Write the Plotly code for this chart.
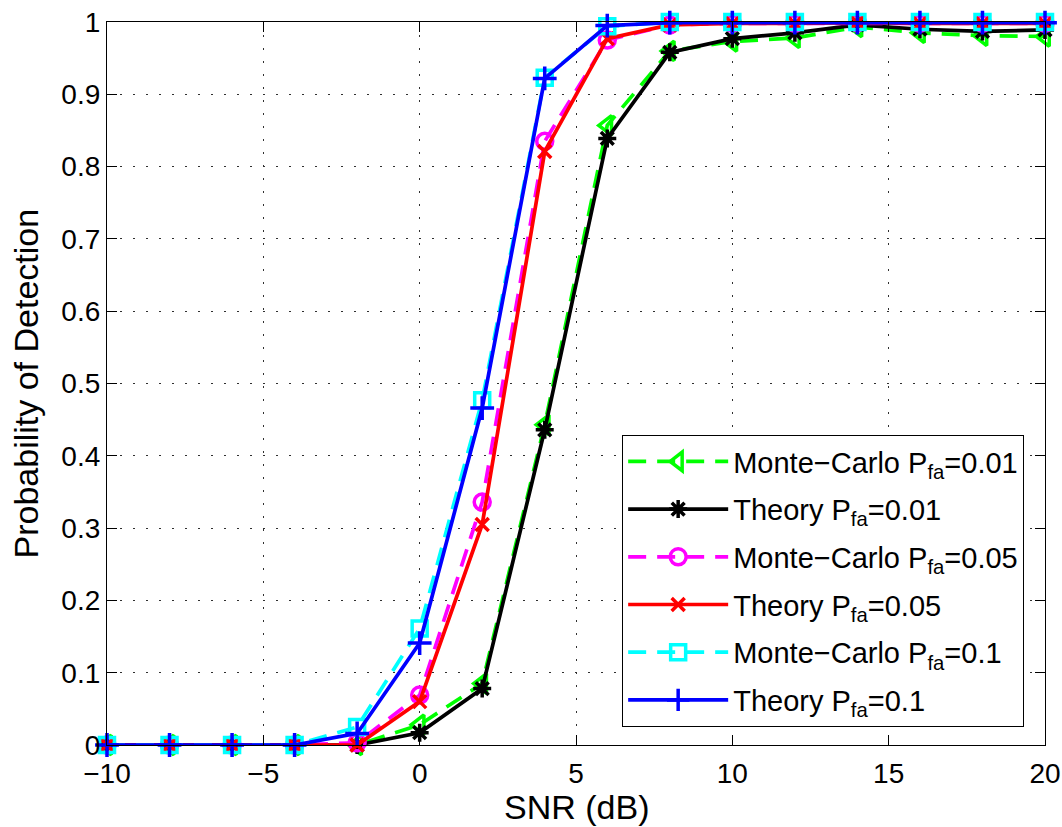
import plotly.graph_objects as go

snr = [-10, -8, -6, -4, -2, 0, 2, 4, 6, 8, 10, 12, 14, 16, 18, 20]

mc_001 = [0, 0, 0, 0, 0, 0.028, 0.085, 0.443, 0.857, 0.960, 0.973, 0.978, 0.993, 0.985, 0.981, 0.980]
th_001 = [0, 0, 0, 0, 0, 0.017, 0.078, 0.436, 0.839, 0.958, 0.977, 0.985, 0.996, 0.990, 0.987, 0.989]
mc_005 = [0, 0, 0, 0, 0.003, 0.069, 0.336, 0.835, 0.975, 0.996, 0.998, 0.998, 0.999, 0.998, 0.998, 0.998]
th_005 = [0, 0, 0, 0, 0, 0.060, 0.305, 0.821, 0.977, 0.996, 0.998, 0.998, 0.999, 0.998, 0.998, 0.998]
mc_01 = [0, 0, 0, 0, 0.025, 0.161, 0.477, 0.923, 0.994, 1.0, 1.0, 1.0, 1.0, 1.0, 1.0, 1.0]
th_01 = [0, 0, 0, 0, 0.016, 0.141, 0.466, 0.922, 0.995, 0.999, 0.999, 0.999, 0.999, 0.999, 0.999, 0.999]

series = [
    ("Monte\u2212Carlo P<sub>fa</sub>=0.01", mc_001, "#00FF00", "18px,11px", "triangle-left-open", 17),
    ("Theory P<sub>fa</sub>=0.01", th_001, "#000000", "solid", "asterisk-open", 15),
    ("Monte\u2212Carlo P<sub>fa</sub>=0.05", mc_005, "#FF00FF", "18px,11px", "circle-open", 16),
    ("Theory P<sub>fa</sub>=0.05", th_005, "#FF0000", "solid", "x-thin-open", 13),
    ("Monte\u2212Carlo P<sub>fa</sub>=0.1", mc_01, "#00FFFF", "18px,11px", "square-open", 15),
    ("Theory P<sub>fa</sub>=0.1", th_01, "#0000FF", "solid", "cross-thin-open", 17),
]

yticks = [0, 0.1, 0.2, 0.3, 0.4, 0.5, 0.6, 0.7, 0.8, 0.9, 1]
ytext = ["0", "0.1", "0.2", "0.3", "0.4", "0.5", "0.6", "0.7", "0.8", "0.9", "1"]
xticks = [-10, -5, 0, 5, 10, 15, 20]
x_title = "SNR (dB)"
y_title = "Probability of Detection"

fig = go.Figure()
for i, (name, vals, color, dash, sym, size) in enumerate(series):
    fig.add_trace(go.Scatter(
        x=snr, y=vals, name=name, mode="lines+markers", legendgroup=f"g{i}",
        line=dict(color=color, width=3.7, dash=dash),
        marker=dict(symbol=sym, size=size, color=color, line=dict(color=color, width=3.5)),
        cliponaxis=False,
    ))

axis_common = dict(
    showline=True, linecolor="black", linewidth=1.2, mirror="ticks",
    ticks="inside", ticklen=10, tickcolor="black", tickwidth=1,
    showgrid=True, gridcolor="#303030", gridwidth=1.3, griddash="2px,11px",
    zeroline=False, automargin=False, ticklabeloverflow="allow",
    tickfont=dict(family="Liberation Sans, Arial, sans-serif", size=28, color="black"),
)

fig.update_layout(
    width=1062, height=827,
    paper_bgcolor="white", plot_bgcolor="white",
    margin=dict(l=107, r=17, t=22, b=82),
    font=dict(family="Liberation Sans, Arial, sans-serif", color="black"),
    xaxis=dict(range=[-10, 20], tickvals=xticks, ticklabelstandoff=3, **axis_common),
    yaxis=dict(range=[0, 1], tickvals=yticks, ticktext=ytext, **axis_common),
    legend=dict(
        x=0.549, y=0.429, xanchor="left", yanchor="top",
        bgcolor="white", bordercolor="black", borderwidth=1.2,
        font=dict(size=29, color="black"),
        itemwidth=100, tracegroupgap=7,
    ),
    showlegend=True,
    annotations=[
        dict(text=x_title, xref="paper", yref="paper", x=0.5, y=0,
             xanchor="center", yanchor="middle", yshift=-62, showarrow=False,
             font=dict(size=34, color="black")),
        dict(text=y_title, xref="paper", yref="paper", x=0, y=0.5,
             xanchor="center", yanchor="middle", xshift=-82, textangle=-90,
             showarrow=False, font=dict(size=34, color="black")),
    ],
)

fig.write_html("out.html", config={"displayModeBar": False},
               post_script="document.body.style.margin='0';document.body.style.overflow='hidden';")
